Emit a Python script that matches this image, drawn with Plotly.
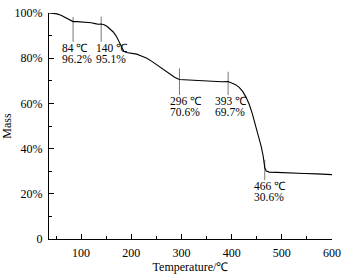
import plotly.graph_objects as go

# TG curve
temperature = [36, 45, 52, 60, 68, 76, 84, 92, 100, 110, 120, 128, 134, 140, 146, 152,
               158, 164, 170, 175, 180, 185, 190, 196, 203, 211, 220, 231, 241, 251,
               258, 265, 272, 278, 287, 296, 310, 325, 338, 350, 365, 380, 393, 400,
               408, 415, 422, 428, 435, 441, 446, 450, 455, 459, 463, 466, 469, 475,
               490, 505, 525, 544, 570, 600]
mass = [100.0, 99.9, 99.6, 99.0, 98.0, 97.0, 96.2, 96.2, 96.1, 95.9, 95.7, 95.3, 95.0, 95.1, 94.8, 94.0,
        93.0, 91.6, 89.8, 87.6, 84.8, 83.1, 82.5, 82.3, 82.2, 81.8, 81.0, 80.0, 78.6, 77.0,
        75.9, 74.8, 73.5, 72.6, 71.5, 70.6, 70.4, 70.1, 69.9, 69.8, 69.7, 69.6, 69.7, 69.2,
        68.3, 67.1, 65.3, 63.0, 59.6, 55.6, 51.8, 48.5, 45.0, 40.9, 36.5, 31.5, 30.1, 29.6,
        29.5, 29.3, 29.1, 29.0, 28.8, 28.5]

# marked points
mark_temp = [84, 140, 296, 393, 466]
mark_mass = [96.2, 95.1, 70.6, 69.7, 30.6]
mark_temp_text = ["84 ℃", "140 ℃", "296 ℃", "393 ℃", "466 ℃"]
mark_mass_text = ["96.2%", "95.1%", "70.6%", "69.7%", "30.6%"]

x_ticks = [100, 200, 300, 400, 500, 600]
y_ticks = [0, 20, 40, 60, 80, 100]
y_tick_text = ["0", "20%", "40%", "60%", "80%", "100%"]

FONT = "Liberation Serif"

fig = go.Figure()
fig.add_trace(go.Scatter(x=temperature, y=mass, mode="lines",
                         line=dict(color="black", width=1.1), hoverinfo="skip",
                         showlegend=False))

# style offsets (in % units) for the vertical marker lines
line_up = [2.0, 3.3, 4.9, 4.3, 4.4]
line_down = [9.0, 7.9, 6.9, 6.0, 4.5]
text_shift = [-12, -6, -10, -14, -12]

for T, m, t1, t2, up, dn, xs in zip(mark_temp, mark_mass, mark_temp_text, mark_mass_text,
                                     line_up, line_down, text_shift):
    fig.add_shape(type="line", x0=T, x1=T, y0=m + up, y1=m - dn,
                  line=dict(color="#555555", width=0.8), layer="below")
    fig.add_annotation(x=T, y=m - dn, text=t1, showarrow=False, xanchor="left",
                       yanchor="middle", xshift=xs, yshift=-6, borderpad=0,
                       font=dict(family=FONT, size=11.5, color="black"))
    fig.add_annotation(x=T, y=m - dn, text=t2, showarrow=False, xanchor="left",
                       yanchor="middle", xshift=xs, yshift=-17, borderpad=0,
                       font=dict(family=FONT, size=11.5, color="black"))

fig.update_layout(
    width=349, height=274,
    margin=dict(l=49, r=17, t=13, b=35),
    paper_bgcolor="white", plot_bgcolor="white",
    font=dict(family=FONT, size=12, color="black"),
)
fig.update_xaxes(
    range=[36, 600], tickvals=x_ticks, showgrid=False, zeroline=False, automargin=False,
    showline=True, linecolor="black", linewidth=1.3,
    ticks="inside", ticklen=5, tickwidth=1, tickcolor="black",
    minor=dict(dtick=50, tick0=0, ticks="inside", ticklen=3, tickwidth=1, tickcolor="black"),
    ticklabelstandoff=2,
    title=dict(text="Temperature/℃", font=dict(family=FONT, size=12), standoff=0),
)
fig.update_yaxes(
    range=[0, 100], tickvals=y_ticks, ticktext=y_tick_text, showgrid=False, zeroline=False,
    automargin=False,
    showline=True, linecolor="black", linewidth=1.3,
    ticks="inside", ticklen=5, tickwidth=1, tickcolor="black",
    minor=dict(dtick=10, tick0=0, ticks="inside", ticklen=3, tickwidth=1, tickcolor="black"),
    ticklabelstandoff=3,
    title=dict(text="Mass", font=dict(family=FONT, size=12), standoff=0),
)

fig.write_html("out.html", config={"displayModeBar": False},
               post_script="document.body.style.margin='0px';")
